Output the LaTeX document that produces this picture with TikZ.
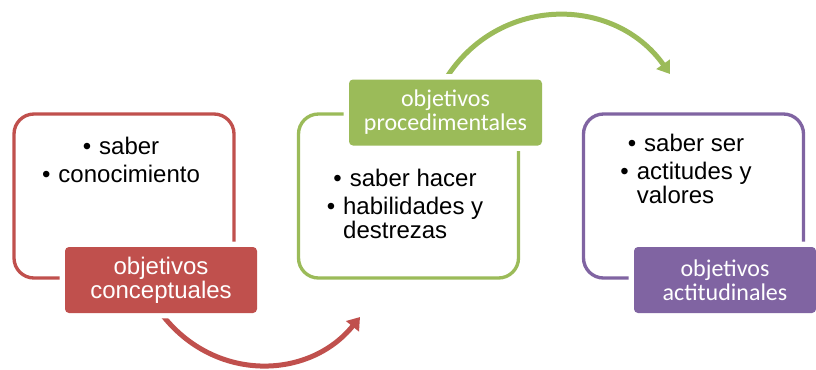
\documentclass[tikz,border=0pt]{standalone}
\usepackage{fontspec}
\setmainfont{Liberation Sans}
\newfontfamily\objlblfont{Carlito}
\usepackage{xcolor}
\definecolor{objred}{HTML}{C0504D}
\definecolor{objgreen}{HTML}{9BBB59}
\definecolor{objpurple}{HTML}{8064A2}
\usetikzlibrary{arrows.meta,positioning,backgrounds}
\newcommand{\objitem}{•\hspace{6pt}}
\tikzset{
  objbox/.style={draw,rounded corners=15pt,line width=2.5pt,fill=white,minimum width=165pt,minimum height=123pt,inner sep=0pt},
  objlabel/.style={rounded corners=3pt,text=white,align=center,inner sep=0pt,minimum height=49.5pt,font=\fontsize{18}{18}\selectfont,preaction={draw=white,line width=8pt}},
  objtext/.style={align=center,font=\fontsize{18}{21}\selectfont},
  objflow/.style={-{Triangle[length=9pt,width=12pt]},line width=3.75pt},
}
\renewcommand{\arraystretch}{0.8}
\begin{document}
\begin{tikzpicture}[x=0.75pt,y=-0.75pt]
\useasboundingbox (0,0) rectangle (816,369);
% conceptuales
\node[objbox,draw=objred] (boxc) at (124,196) {};
\node[objtext] (tc) at (121,160) {\objitem saber\\\objitem conocimiento};
\node[objlabel,fill=objred,minimum width=144pt] (lblc) at (161,280) {objetivos\\conceptuales};
% procedimentales
\node[objbox,draw=objgreen] (boxp) at (408.5,196) {};
\node[objtext] (tp) at (405,207) {\objitem saber hacer\\\objitem\begin{tabular}[t]{@{}l@{}}habilidades y\\destrezas\end{tabular}};
\node[objlabel,fill=objgreen,minimum width=144.75pt,font=\objlblfont\fontsize{18}{18}\selectfont] (lblp) at (445.5,112.5) {objetivos\\procedimentales};
% actitudinales
\node[objbox,draw=objpurple] (boxa) at (693.5,196) {};
\node[objtext] (ta) at (686,172) {\objitem saber ser\\\objitem\begin{tabular}[t]{@{}l@{}}actitudes y\\valores\end{tabular}};
\node[objlabel,fill=objpurple,minimum width=136.5pt,font=\objlblfont\fontsize{18}{18}\selectfont] (lbla) at (725,280) {objetivos\\actitudinales};
% arrows between the boxes
\coordinate (tipc) at (360,317);
\coordinate (tipg) at (670,74);
\begin{scope}[on background layer]
\draw[objflow,objred] (lblc.south) .. controls (214,383) and (309,380) .. (tipc);
\draw[objflow,objgreen] (lblp.north) .. controls (498,-5) and (614,-5) .. (tipg);
\end{scope}
\end{tikzpicture}
\end{document}
